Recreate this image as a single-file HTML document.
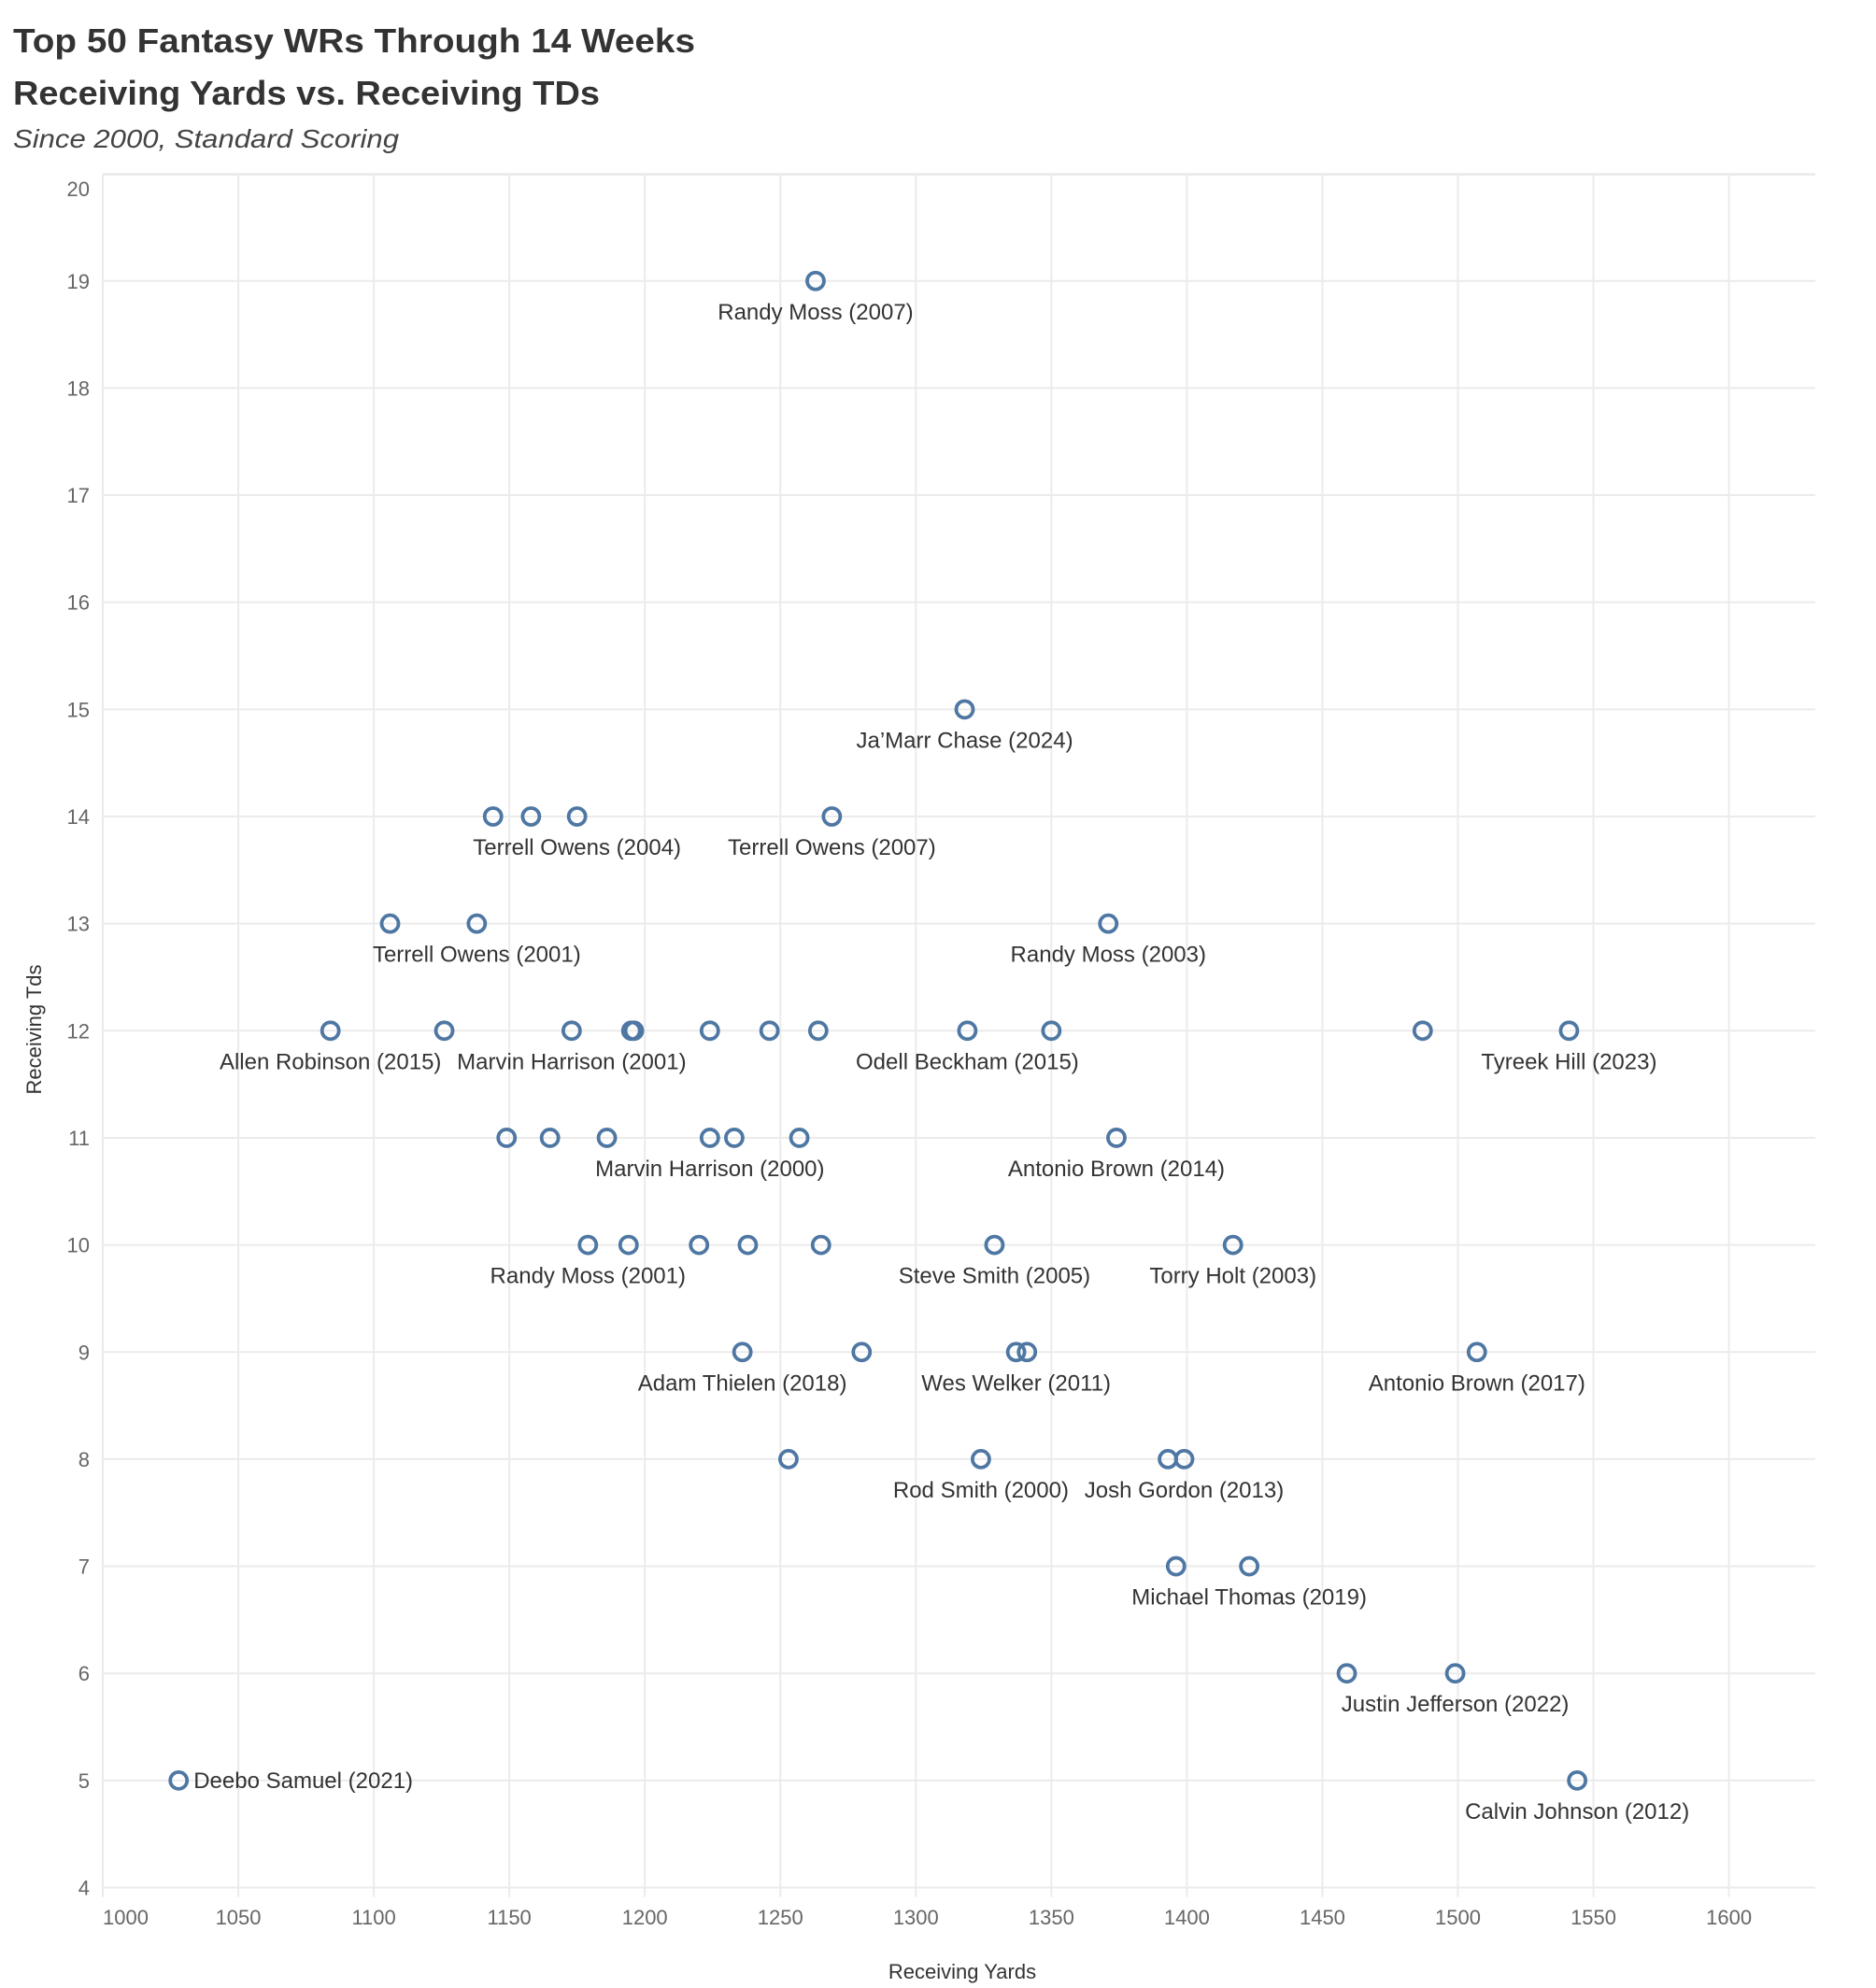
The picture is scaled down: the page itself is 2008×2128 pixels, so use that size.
<!DOCTYPE html>
<html><head><meta charset="utf-8"><style>
body{margin:0;background:#fff;}
svg{display:block;font-family:"Liberation Sans",sans-serif;}
</style></head><body>
<svg id="chart" width="2008" height="2128" xmlns="http://www.w3.org/2000/svg">
<text x="14" y="56" font-size="36" font-weight="bold" fill="#333" textLength="730" lengthAdjust="spacingAndGlyphs">Top 50 Fantasy WRs Through 14 Weeks</text>
<text x="14" y="112" font-size="36" font-weight="bold" fill="#333" textLength="628" lengthAdjust="spacingAndGlyphs">Receiving Yards vs. Receiving TDs</text>
<text x="14" y="158" font-size="28" font-style="italic" fill="#444" textLength="413" lengthAdjust="spacingAndGlyphs">Since 2000, Standard Scoring</text>
<g id="grid"></g><g id="axes"></g><g id="marks"></g><g id="labels"></g>
<text x="1030" y="2118" font-size="22" fill="#333" text-anchor="middle">Receiving Yards</text>
<text transform="translate(44,1102) rotate(-90)" font-size="22" fill="#333" text-anchor="middle">Receiving Tds</text>
</svg>
<script>
const yards=[1263,1318,1144,1158,1175,1269,1106,1138,1371,1084,1126,1173,1195,1224,1246,1264,1319,1350,1487,1541,1149,1165,1186,1224,1233,1257,1374,1179,1194,1220,1238,1265,1329,1417,1236,1280,1337,1341,1507,1253,1324,1393,1399,1396,1423,1459,1499,1028,1544,1196];
const tds=[19,15,14,14,14,14,13,13,13,12,12,12,12,12,12,12,12,12,12,12,11,11,11,11,11,11,11,10,10,10,10,10,10,10,9,9,9,9,9,8,8,8,8,7,7,6,6,5,5,12];
const labels=["Randy Moss (2007)","Ja\u2019Marr Chase (2024)","","","Terrell Owens (2004)","Terrell Owens (2007)","","Terrell Owens (2001)","Randy Moss (2003)","Allen Robinson (2015)","","Marvin Harrison (2001)","","","","","Odell Beckham (2015)","","","Tyreek Hill (2023)","","","","Marvin Harrison (2000)","","","Antonio Brown (2014)","Randy Moss (2001)","","","","","Steve Smith (2005)","Torry Holt (2003)","Adam Thielen (2018)","","Wes Welker (2011)","","Antonio Brown (2017)","","Rod Smith (2000)","","Josh Gordon (2013)","","Michael Thomas (2019)","","Justin Jefferson (2022)","Deebo Samuel (2021)","Calvin Johnson (2012)",""];
const xTicks=[1000,1050,1100,1150,1200,1250,1300,1350,1400,1450,1500,1550,1600];
const yTicks=[4,5,6,7,8,9,10,11,12,13,14,15,16,17,18,19,20];
const NS="http://www.w3.org/2000/svg";
const X0=110,PX=2.901,Y4=2020.5,PY=114.65;
function sx(v){return X0+(v-1000)*PX;}
function sy(v){return Y4-(v-4)*PY;}
function mk(t,a,p){const e=document.createElementNS(NS,t);for(const k in a)e.setAttribute(k,a[k]);document.getElementById(p).appendChild(e);return e;}
const RIGHT=1943,TOPY=187;
xTicks.forEach(v=>{const l=mk('line',{x1:sx(v),x2:sx(v),y1:TOPY,y2:Y4+10,stroke:'#ebebeb','stroke-width':2},'grid');


const t=mk('text',{x:sx(v),y:2060,'font-size':22,fill:'#666','text-anchor':v===1000?'start':'middle'},'axes');t.textContent=v;

});
yTicks.forEach(v=>{const l=mk('line',{x1:X0,x2:RIGHT,y1:sy(v),y2:sy(v),stroke:'#ebebeb','stroke-width':2},'grid');


const t=mk('text',{x:96,y:sy(v)+(v===20?24:8),'font-size':22,fill:'#666','text-anchor':'end'},'axes');t.textContent=v;

});
const topBorder=mk('line',{x1:X0,x2:RIGHT,y1:TOPY,y2:TOPY,stroke:'#ebebeb','stroke-width':2},'grid');


yards.forEach((v,i)=>{const c=mk('circle',{cx:sx(v),cy:sy(tds[i]),r:9,fill:'none',stroke:'#4e77a3','stroke-width':3.8},'marks');


if(labels[i]){const side=labels[i].startsWith('Deebo');
const t=mk('text',{x:side?sx(v)+16:sx(v),y:side?sy(tds[i])+8:sy(tds[i])+41,'font-size':24,fill:'#333','text-anchor':side?'start':'middle'},'labels');t.textContent=labels[i];

}});
</script>
</body></html>
